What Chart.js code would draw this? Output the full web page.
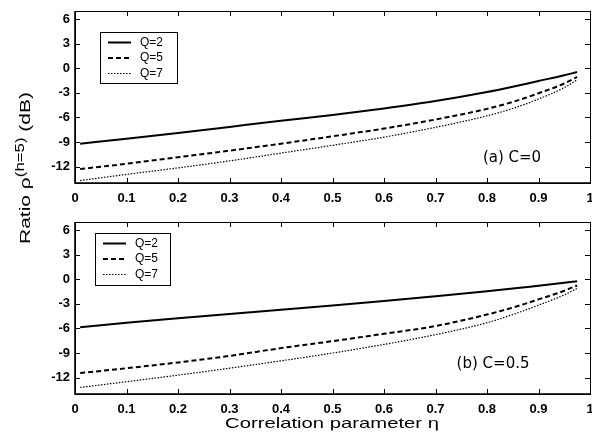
<!DOCTYPE html>
<html>
<head>
<meta charset="utf-8">
<script src="https://cdn.jsdelivr.net/npm/chart.js@4"></script>
<style>
  body { margin: 0; background: #fff; width: 592px; height: 437px; overflow: hidden; position: relative; font-family: "Liberation Sans", Arial, sans-serif; color: #000; }
  canvas { position: absolute; left: 0; }
  #ytitle { position: absolute; left: 23px; top: 168px; transform: translate(-50%, -50%) rotate(-90deg) scaleX(1.4); white-space: nowrap; font-size: 15px; }
  #ytitle sup { font-size: 12px; }
  #xtitle { position: absolute; left: 332px; top: 422px; transform: translate(-50%, -50%) scaleX(1.35); white-space: nowrap; font-size: 15px; }
</style>
</head>
<body>
<canvas id="topPanel" width="592" height="205" style="top:0"></canvas>
<canvas id="bottomPanel" width="592" height="205" style="top:211px"></canvas>
<div id="ytitle">Ratio ρ<sup>(h=5)</sup> (dB)</div>
<div id="xtitle">Correlation parameter η</div>
<script>
// correlation parameter (x)
const eta = [0.01, 0.1, 0.2, 0.3, 0.4, 0.5, 0.6, 0.7, 0.8, 0.85, 0.9, 0.95, 0.975];

// (a) C=0
const c0Q2 = [-9.2, -8.6, -7.9, -7.15, -6.4, -5.7, -4.9, -4.0, -2.9, -2.25, -1.55, -0.85, -0.45];
const c0Q5 = [-12.3, -11.65, -10.85, -10.05, -9.2, -8.3, -7.35, -6.25, -4.95, -4.1, -3.05, -1.85, -1.05];
const c0Q7 = [-13.7, -12.95, -12.15, -11.3, -10.35, -9.4, -8.4, -7.2, -5.8, -4.9, -3.75, -2.35, -1.4];

// (b) C=0.5
const c5Q2 = [-5.85, -5.3, -4.75, -4.22, -3.72, -3.2, -2.66, -2.08, -1.46, -1.13, -0.78, -0.43, -0.23];
const c5Q5 = [-11.45, -10.85, -10.15, -9.35, -8.4, -7.55, -6.65, -5.7, -4.3, -3.45, -2.45, -1.4, -0.75];
const c5Q7 = [-13.2, -12.5, -11.7, -10.85, -9.95, -9.0, -7.95, -6.75, -5.3, -4.3, -3.15, -1.9, -1.1];

const seriesLabels = ['Q=2', 'Q=5', 'Q=7'];
const xTicks = [0, 0.1, 0.2, 0.3, 0.4, 0.5, 0.6, 0.7, 0.8, 0.9, 1];
const xTickLabels = ['0', '0.1', '0.2', '0.3', '0.4', '0.5', '0.6', '0.7', '0.8', '0.9', '1'];
const yTicks = [-12, -9, -6, -3, 0, 3, 6];

const lineStyles = [
  { borderWidth: 2, borderDash: [] },
  { borderWidth: 2, borderDash: [5, 3] },
  { borderWidth: 1.2, borderDash: [1.5, 1.5] }
];

// box + inward ticks on all four sides, like matlab
const frameTicks = {
  id: 'frameTicks',
  afterDatasetsDraw(chart) {
    const { ctx, chartArea: a, scales: { x, y } } = chart;
    ctx.save();
    ctx.strokeStyle = '#000';
    ctx.lineWidth = 1;
    ctx.strokeRect(a.left + 0.5, a.top + 0.5, a.right - a.left, a.bottom - a.top);
    ctx.lineWidth = 1.6;
    ctx.beginPath();
    ctx.moveTo(a.left, a.top); ctx.lineTo(a.left, a.bottom); ctx.lineTo(a.right, a.bottom);
    ctx.stroke();
    ctx.lineWidth = 1;
    ctx.beginPath();
    x.ticks.forEach(t => {
      const px = Math.round(x.getPixelForValue(t.value)) + 0.5;
      ctx.moveTo(px, a.bottom); ctx.lineTo(px, a.bottom - 5);
      ctx.moveTo(px, a.top); ctx.lineTo(px, a.top + 5);
    });
    y.ticks.forEach(t => {
      const py = Math.round(y.getPixelForValue(t.value)) + 0.5;
      ctx.moveTo(a.left, py); ctx.lineTo(a.left + 5, py);
      ctx.moveTo(a.right, py); ctx.lineTo(a.right - 5, py);
    });
    ctx.stroke();
    ctx.restore();
  }
};

// legend box inside the plot + panel caption
const insideLegend = {
  id: 'insideLegend',
  afterDatasetsDraw(chart, args, opts) {
    const { ctx, chartArea, scales: { x, y } } = chart;
    const x0 = chartArea.left + opts.dx;
    const y0 = chartArea.top + opts.dy;
    ctx.save();
    ctx.fillStyle = '#fff';
    ctx.fillRect(x0, y0, opts.w, opts.h);
    ctx.strokeStyle = '#000';
    ctx.lineWidth = 1;
    ctx.strokeRect(x0 + 0.5, y0 + 0.5, opts.w, opts.h);
    chart.data.datasets.forEach((ds, i) => {
      const ly = y0 + 10.5 + i * 15.5;
      ctx.beginPath();
      ctx.setLineDash(ds.borderDash);
      ctx.lineWidth = ds.borderWidth;
      ctx.moveTo(x0 + 8, ly);
      ctx.lineTo(x0 + 31, ly);
      ctx.stroke();
      ctx.setLineDash([]);
      ctx.fillStyle = '#000';
      ctx.font = '12px "Liberation Sans"';
      ctx.textBaseline = 'middle';
      ctx.fillText(ds.label, x0 + 40, ly);
    });
    ctx.font = '15px "DejaVu Sans"';
    ctx.textBaseline = 'middle';
    ctx.fillText(opts.caption, x.getPixelForValue(opts.cx), y.getPixelForValue(opts.cy));
    ctx.restore();
  }
};

function makePanel(id, values, legendOpts) {
  const datasets = values.map((vals, i) => ({
    label: seriesLabels[i],
    data: eta.map((e, j) => ({ x: e, y: vals[j] })),
    borderColor: '#000',
    borderWidth: lineStyles[i].borderWidth,
    borderDash: lineStyles[i].borderDash,
    pointRadius: 0,
    cubicInterpolationMode: 'monotone',
    fill: false
  }));

  return new Chart(document.getElementById(id), {
    type: 'line',
    data: { datasets },
    plugins: [frameTicks, insideLegend],
    options: {
      responsive: false,
      animation: false,
      layout: { padding: { top: 11, right: 2, left: 0, bottom: 0 } },
      scales: {
        x: {
          type: 'linear',
          min: 0,
          max: 1,
          grid: { display: false, drawTicks: false },
          border: { display: false },
          afterBuildTicks: s => { s.ticks = xTicks.map(v => ({ value: v })); },
          afterFit: s => { s.height = 22; s.paddingLeft = 0; s.paddingRight = 0; },
          ticks: {
            padding: 8,
            color: '#000',
            font: { family: 'Liberation Sans', size: 13, weight: 'bold' },
            callback: (v, i) => xTickLabels[i]
          }
        },
        y: {
          min: -14,
          max: 7,
          grid: { display: false, drawTicks: false },
          border: { display: false },
          afterBuildTicks: s => { s.ticks = yTicks.map(v => ({ value: v })); },
          afterFit: s => { s.width = 75; s.paddingTop = 0; s.paddingBottom = 0; },
          ticks: {
            padding: 5,
            color: '#000',
            font: { family: 'Liberation Sans', size: 13, weight: 'bold' }
          }
        }
      },
      plugins: {
        legend: { display: false },
        tooltip: { enabled: false },
        insideLegend: legendOpts
      }
    }
  });
}

makePanel('topPanel', [c0Q2, c0Q5, c0Q7],
  { dx: 25, dy: 21, w: 77, h: 51, caption: '(a) C=0', cx: 0.792, cy: -10.9 });
makePanel('bottomPanel', [c5Q2, c5Q5, c5Q7],
  { dx: 20, dy: 11, w: 75, h: 52, caption: '(b) C=0.5', cx: 0.741, cy: -10.4 });
</script>
</body>
</html>
